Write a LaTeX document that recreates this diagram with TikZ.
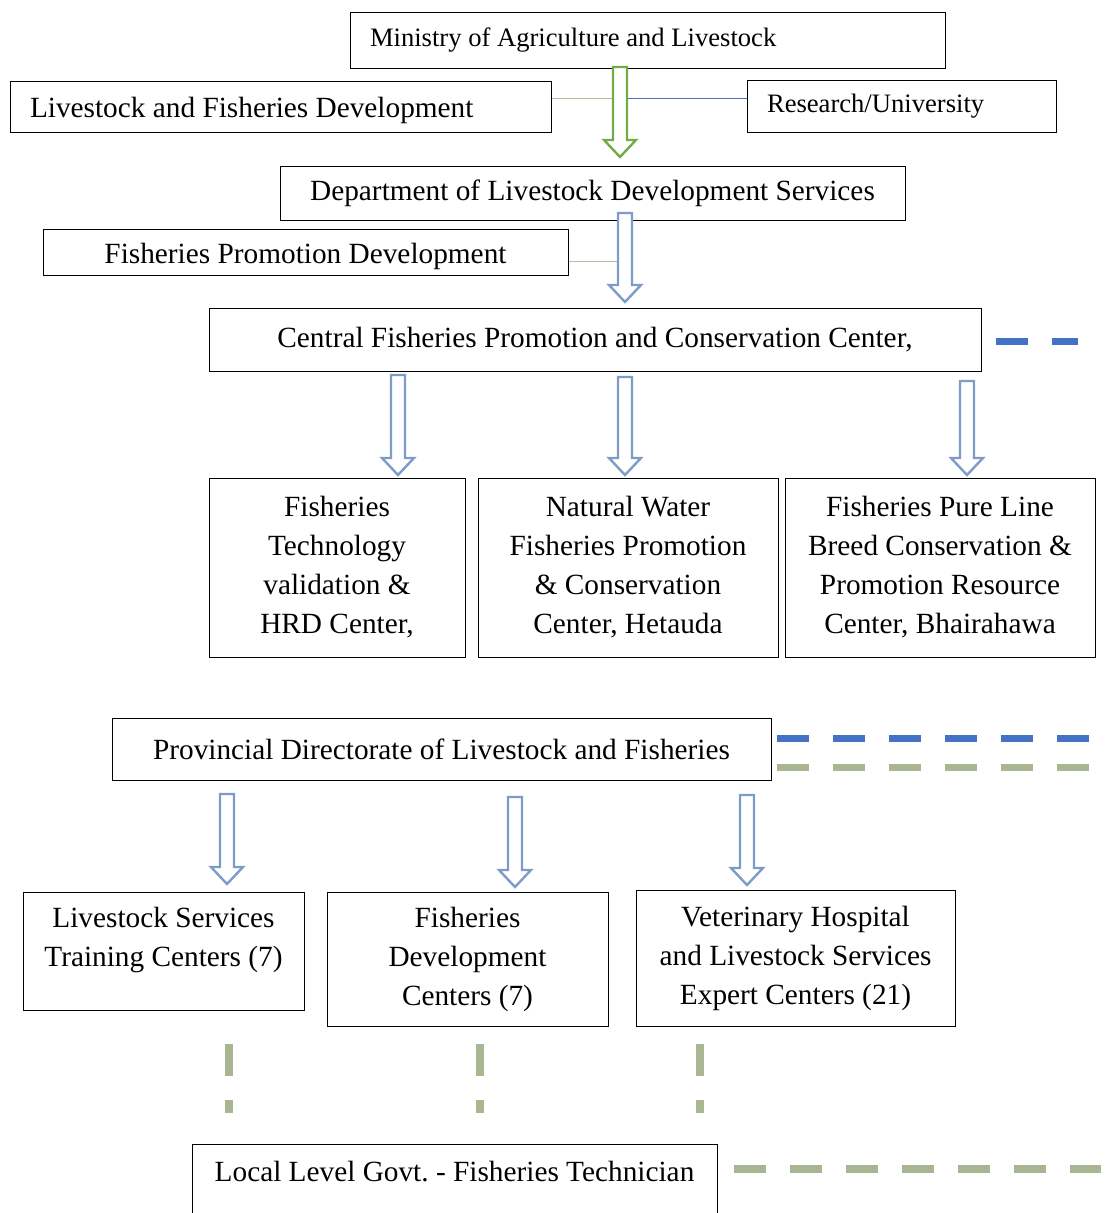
\documentclass[tikz,border=0pt]{standalone}
\usepackage{fontspec}
\setmainfont{Liberation Serif}
\usepackage{xcolor}
\usepackage{tikz}
\usetikzlibrary{arrows.meta,positioning,calc}
\definecolor{arrowgreen}{RGB}{112,173,71}
\definecolor{arrowblue}{RGB}{126,156,200}
\definecolor{dashblue}{RGB}{68,114,196}
\definecolor{dashgreen}{RGB}{168,183,146}
\definecolor{sage}{RGB}{180,192,160}
\newcommand{\hollowarrow}[3]{%
  \draw[#1, fill=white, line width=2.4pt, line join=miter] let \p1=(#2), \p2=(#3) in
    (\x1-7pt,\y1) -- (\x1+7pt,\y1) -- (\x1+7pt,\y2+17pt) -- (\x1+16pt,\y2+17pt)
    -- (\x1,\y2) -- (\x1-16pt,\y2+17pt) -- (\x1-7pt,\y2+17pt) -- cycle;}

\begin{document}
\begin{tikzpicture}[
    x=1pt, y=-1pt,
    box/.style={draw, line width=1pt, inner sep=0pt, align=center, font=\fontsize{29.3}{39}\selectfont},
    leftbox/.style={box, align=flush left, inner xsep=20pt},
    smallbox/.style={leftbox, font=\fontsize{26.6}{32}\selectfont},
    bluedash/.style={dashblue, line width=7pt, dash pattern=on 32pt off 24pt},
    greendash/.style={dashgreen, line width=7.5pt, dash pattern=on 32pt off 24pt},
]
    \useasboundingbox (0,0) rectangle (1112,1213);

    % Ministry level
    \node[smallbox, minimum width=595, minimum height=56, text width=555] (ministry) at (647.5,40) {Ministry of Agriculture and Livestock};
    \node[leftbox, minimum width=541, minimum height=51, text width=501, text height=28pt] (lfd) at (280.5,106.5) {Livestock and Fisheries Development};
    \node[smallbox, minimum width=309, minimum height=52, text width=269] (research) at (901.5,106) {Research/University};

    % Department level
    \node[box, minimum width=625, minimum height=54] (dlds) at (592.5,193) {Department of Livestock Development Services};
    \node[box, minimum width=525, minimum height=46, text height=29pt] (fpd) at (305.5,252) {Fisheries Promotion Development};

    % Central center
    \node[box, minimum width=772, minimum height=63] (cfpc) at (595,339.5) {Central Fisheries Promotion and Conservation Center,};
    \node[box, minimum width=256, minimum height=179] (ftv) at (337,567.5) {Fisheries\\Technology\\validation \&\\HRD Center,};
    \node[box, minimum width=300, minimum height=179] (nwf) at (628,567.5) {Natural Water\\Fisheries Promotion\\\& Conservation\\Center, Hetauda};
    \node[box, minimum width=310, minimum height=179] (fpl) at (940,567.5) {Fisheries Pure Line\\Breed Conservation \&\\Promotion Resource\\Center, Bhairahawa};

    % Provincial level
    \node[box, minimum width=659, minimum height=62] (pdlf) at (441.5,749) {Provincial Directorate of Livestock and Fisheries};
    \node[box, minimum width=281, minimum height=118, text depth=29pt] (lstc) at (163.5,951) {Livestock Services\\Training Centers (7)};
    \node[box, minimum width=281, minimum height=134] (fdc) at (467.5,959) {Fisheries\\Development\\Centers (7)};
    \node[box, minimum width=319, minimum height=136] (vhls) at (795.5,958) {Veterinary Hospital\\and Livestock Services\\Expert Centers (21)};

    % Local level
    \node[box, anchor=north, minimum width=525, minimum height=100, text depth=46pt] (local) at (454.5,1144) {Local Level Govt.\ - Fisheries Technician};

    % Arrow ends
    \coordinate (a0s) at (620,67);  \coordinate (a0e) at (620,157);
    \coordinate (a1s) at (625,213); \coordinate (a1e) at (625,302);
    \coordinate (a2s) at (398,375); \coordinate (a2e) at (398,475);
    \coordinate (a3s) at (625,377); \coordinate (a3e) at (625,475);
    \coordinate (a4s) at (967,381); \coordinate (a4e) at (967,475);
    \coordinate (a5s) at (227,794); \coordinate (a5e) at (227,884);
    \coordinate (a6s) at (515,797); \coordinate (a6e) at (515,887);
    \coordinate (a7s) at (747,795); \coordinate (a7e) at (747,885);
    \coordinate (v1) at (229,0);
    \coordinate (v2) at (480,0);
    \coordinate (v3) at (700,0);

    % Side links
    \draw[sage, line width=1.2pt] ([yshift=-18pt]lfd.north east) -- ([yshift=-18pt]lfd.north east -| a0s);
    \draw[dashblue, line width=1pt] ([yshift=-19pt]research.north west) -- ([yshift=-19pt]research.north west -| a0s);
    \draw[sage, line width=1.2pt] ([yshift=-33pt]fpd.north east) -- ([yshift=-33pt]fpd.north east -| a1s);

    % Arrows
    \hollowarrow{arrowgreen}{a0s}{a0e}
    \hollowarrow{arrowblue}{a1s}{a1e}
    \hollowarrow{arrowblue}{a2s}{a2e}
    \hollowarrow{arrowblue}{a3s}{a3e}
    \hollowarrow{arrowblue}{a4s}{a4e}
    \hollowarrow{arrowblue}{a5s}{a5e}
    \hollowarrow{arrowblue}{a6s}{a6e}
    \hollowarrow{arrowblue}{a7s}{a7e}

    % Dashed links
    \draw[bluedash] ([xshift=14pt,yshift=-34pt]cfpc.north east) -- ++(82,0);
    \draw[bluedash] ([xshift=5pt,yshift=-21pt]pdlf.north east) -- ++(312,0);
    \draw[greendash] ([xshift=5pt,yshift=-50pt]pdlf.north east) -- ++(312,0);
    \draw[greendash, shorten <=33pt, shorten >=31pt] (v1 |- lstc.south) -- (v1 |- local.north);
    \draw[greendash, shorten <=17pt, shorten >=31pt] (v2 |- fdc.south) -- (v2 |- local.north);
    \draw[greendash, shorten <=17pt, shorten >=31pt] (v3 |- vhls.south) -- (v3 |- local.north);
    \draw[greendash] ([xshift=16pt,yshift=-25pt]local.north east) -- ++(367,0);
\end{tikzpicture}
\end{document}
